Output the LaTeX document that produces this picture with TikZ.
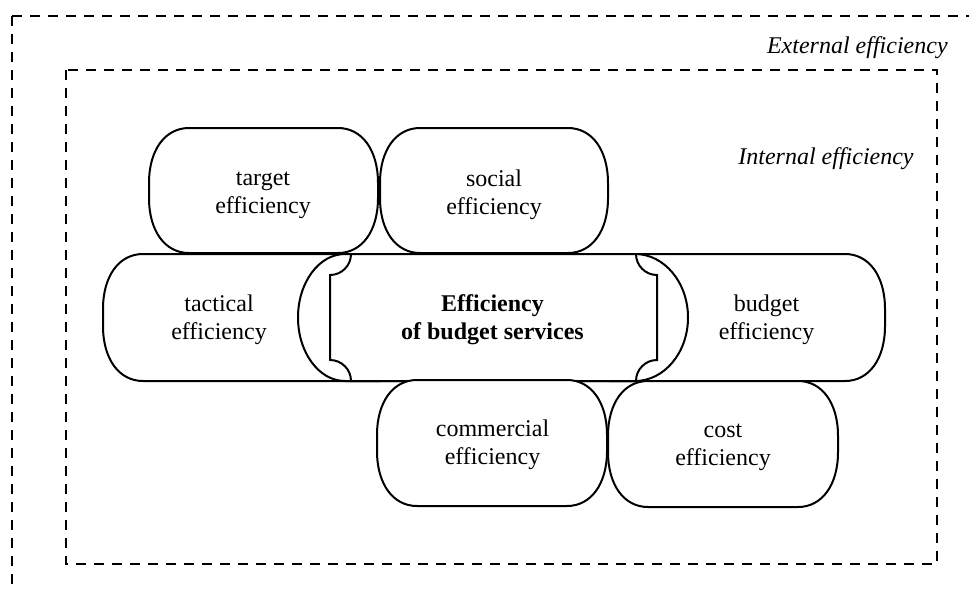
\documentclass[tikz,border=0pt]{standalone}
\usepackage{fontspec}
\setmainfont{Liberation Serif}
\newcommand\pillpath[6]{%
 \draw[shapeline] ({#1+#5},#2) -- ({#3-#5},#2)
   .. controls +({0.6*#5},0) and +(0,{-0.6*#6}) .. (#3,{#2+#6})
   -- (#3,{#4-#6})
   .. controls +(0,{0.6*#6}) and +({0.6*#5},0) .. ({#3-#5},#4)
   -- ({#1+#5},#4)
   .. controls +({-0.6*#5},0) and +(0,{0.6*#6}) .. (#1,{#4-#6})
   -- (#1,{#2+#6})
   .. controls +(0,{-0.6*#6}) and +({-0.6*#5},0) .. ({#1+#5},#2) -- cycle;}
\begin{document}
\begin{tikzpicture}[x=0.5pt,y=-0.5pt,
  shapeline/.style={draw=black,fill=white,line width=1pt},
  frameline/.style={draw=black,line width=1pt,dash pattern=on 5pt off 4pt},
  lbl/.style={font=\fontsize{12}{14}\selectfont,align=center,inner sep=0pt},
  framelbl/.style={font=\fontsize{12}{14}\selectfont\itshape,inner sep=0pt,anchor=base east}]
\useasboundingbox (0,0) rectangle (969,590);
% frames
\draw[frameline] (12,16) -- (975,16);
\draw[frameline] (12,16) -- (12,596);
\draw[frameline] (66,70) rectangle (937,564);
\node[framelbl] (ext) at (948,53) {External efficiency};
\node[framelbl] (int) at (914,164) {Internal efficiency};
% middle row side shapes
\pillpath{103}{254}{420}{381}{40}{55}
\pillpath{570}{254}{885}{381}{40}{55}
% middle rounded shape
\draw[shapeline] (345,254) -- (635,254)
  .. controls +({0.5523*53},0) and +(0,{-0.5523*63.5}) .. (688,317.5)
  .. controls +(0,{0.5523*63.5}) and +({0.5523*53},0) .. (635,381)
  -- (345,381)
  .. controls +({-0.5523*47},0) and +(0,{0.5523*63.5}) .. (298,317.5)
  .. controls +(0,{-0.5523*63.5}) and +({-0.5523*47},0) .. (345,254) -- cycle;
% plaque with concave corners
\draw[shapeline] (351,254) -- (636,254)
  .. controls (636,265.6) and (645.4,275) .. (657,275)
  -- (657,360)
  .. controls (645.4,360) and (636,369.4) .. (636,381)
  -- (351,381)
  .. controls (351,369.4) and (341.6,360) .. (330,360)
  -- (330,275)
  .. controls (341.6,275) and (351,265.6) .. (351,254) -- cycle;
% top row
\pillpath{149}{128}{378}{253}{40}{55}
\pillpath{380}{128}{608}{253}{40}{55}
% bottom row
\pillpath{377}{380}{607}{506}{40}{55}
\pillpath{608}{381}{838}{507}{40}{55}
% texts
\node[lbl] (target) at (263,195) {target\\efficiency};
\node[lbl] (social) at (494,194.5) {social\\efficiency};
\node[lbl] (tactical) at (219,320) {tactical\\efficiency};
\node[lbl] (budget) at (766.5,320) {budget\\efficiency};
\node[lbl,font=\fontsize{12}{14}\selectfont\bfseries] (center) at (492.5,320) {Efficiency\\of budget services};
\node[lbl] (commercial) at (492.5,445) {commercial\\efficiency};
\node[lbl] (cost) at (723,447.5) {cost\\efficiency};
\end{tikzpicture}
\end{document}
